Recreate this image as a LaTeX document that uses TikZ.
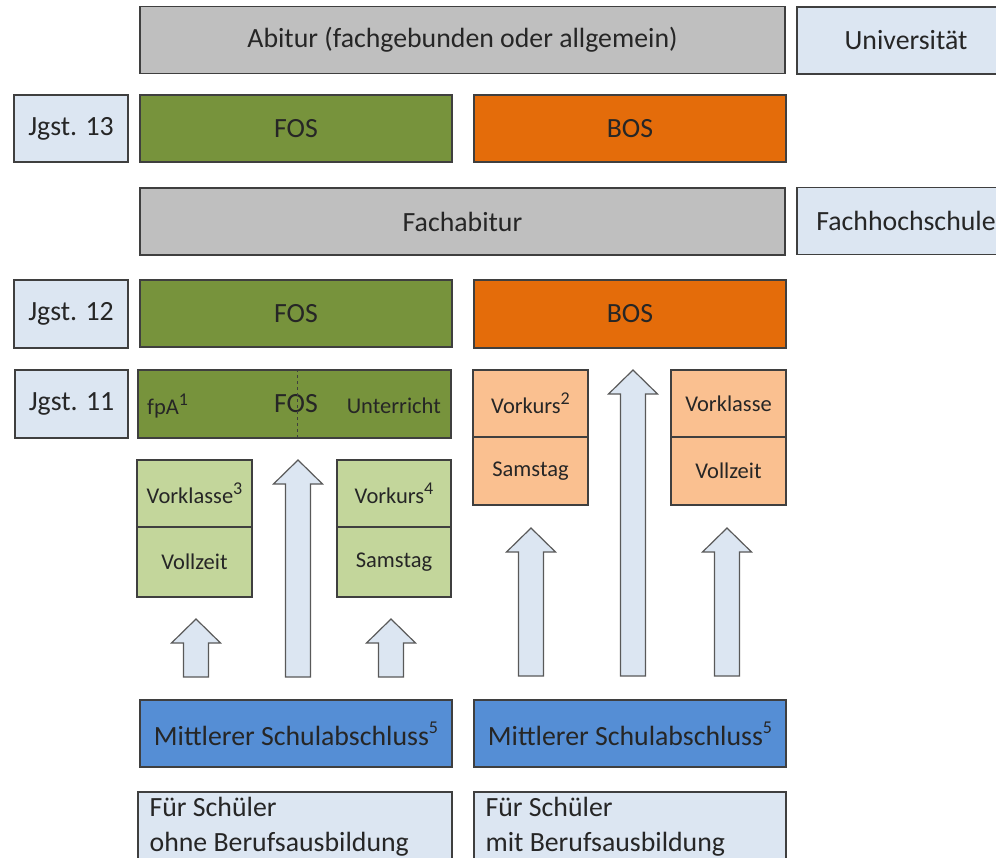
\documentclass[tikz,border=0pt]{standalone}
\usepackage{fontspec}
\setmainfont{Carlito}
\definecolor{bordc}{HTML}{3F3F3F}
\definecolor{txt}{HTML}{262626}
\definecolor{grayf}{HTML}{BFBFBF}
\definecolor{lblue}{HTML}{DCE6F2}
\definecolor{green}{HTML}{77933C}
\definecolor{orange}{HTML}{E46C0A}
\definecolor{lgreen}{HTML}{C3D69B}
\definecolor{lorange}{HTML}{FAC090}
\definecolor{mblue}{HTML}{558ED5}
\definecolor{arrb}{HTML}{595959}
\newcommand{\uparr}[3]{% centre x, tip y, bottom y
  \draw[blockarr] ({#1-12.5},#3) -- ({#1-12.5},{#2+24}) -- ({#1-24.5},{#2+24}) -- (#1,#2)
    -- ({#1+24.5},{#2+24}) -- ({#1+12.5},{#2+24}) -- ({#1+12.5},#3) -- cycle;}
\newcommand{\sps}[1]{\raisebox{0.42em}{\fontsize{18}{18}\selectfont #1}}
\begin{document}
\begin{tikzpicture}[x=1pt,y=-1pt,
  box/.style={draw=bordc, line width=1.2pt, rectangle, inner sep=0pt, text=txt,
    font=\fontsize{27.8}{33}\selectfont},
  wide/.style={box, minimum width=645pt, minimum height=67pt},
  half/.style={box, minimum width=312pt, minimum height=67pt},
  lab/.style={box, fill=lblue, minimum width=114pt, minimum height=67pt},
  dest/.style={box, fill=lblue, minimum width=218pt, minimum height=67pt},
  small/.style={box, minimum width=115pt, font=\fontsize{22.5}{27}\selectfont},
  blockarr/.style={draw=arrb, line width=1.2pt, fill=lblue, line join=miter},
  inl/.style={inner sep=0pt, text=txt, font=\fontsize{22.5}{27}\selectfont}]
\useasboundingbox (0,0) rectangle (996,857);
\clip (0,0) rectangle (996,857);

% top rows
\node[wide, fill=grayf] (abitur) at (462.5,40) {Abitur (fachgebunden oder allgemein)};
\node[dest] (uni) at (906,40.5) {Universität};
\node[lab] (j13) at (71,128.5) {Jgst. 13};
\node[half, fill=green] (fos13) at (296,128.5) {FOS};
\node[half, fill=orange] (bos13) at (630,128.5) {BOS};
\node[wide, fill=grayf] (fachabi) at (462.5,221.5) {Fachabitur};
\node[dest] (fh) at (906,221) {Fachhochschule};
\node[lab, minimum height=68pt] (j12) at (71,314) {Jgst. 12};
\node[half, fill=green] (fos12) at (296,313.5) {FOS};
\node[half, fill=orange, minimum height=68pt] (bos12) at (630,314) {BOS};

% Jgst 11
\node[lab, minimum width=113pt, minimum height=68pt] (j11) at (71.5,404) {Jgst. 11};
\node[half, fill=green, minimum width=313pt, minimum height=68pt] (fos11) at (294.5,404) {};
\node[box, draw=none] (fos11t) at (296,404) {FOS};
\node[inl, anchor=west] (fpa) at (147,406) {fpA\sps{1}};
\node[inl, anchor=east] (unt) at (441,406) {Unterricht};
\draw[bordc, dashed, line width=0.8pt] (fos11.north) ++(2.5,0) coordinate (dtop) -- (dtop |- fos11.south);

% green small boxes
\node[small, fill=lgreen, minimum height=67pt] (vkl3) at (194.5,493.5) {Vorklasse\sps{3}};
\node[small, fill=lgreen, minimum height=70pt] (vz1) at (194.5,562) {Vollzeit};
\node[small, fill=lgreen, minimum width=114pt, minimum height=67pt] (vku4) at (394,493.5) {Vorkurs\sps{4}};
\node[small, fill=lgreen, minimum width=114pt, minimum height=70pt] (sa1) at (394,562) {Samstag};

% orange small boxes
\node[small, fill=lorange, minimum height=67pt] (vku2) at (530.5,403.5) {Vorkurs\sps{2}};
\node[small, fill=lorange, minimum height=68pt] (sa2) at (530.5,471) {Samstag};
\node[small, fill=lorange, minimum height=67pt] (vkl) at (728.5,403.5) {Vorklasse};
\node[small, fill=lorange, minimum height=68pt] (vz2) at (728.5,471) {Vollzeit};

% block arrows
\uparr{196}{619}{677}
\uparr{298}{460}{677}
\uparr{391}{619}{677}
\uparr{531}{528}{676}
\uparr{633}{370}{676}
\uparr{727}{528}{676}

% bottom
\node[half, fill=mblue] (msa1) at (296,733.5) {Mittlerer Schulabschluss\sps{5}};
\node[half, fill=mblue] (msa2) at (630,733.5) {Mittlerer Schulabschluss\sps{5}};
\node[box, fill=lblue, minimum width=314pt, minimum height=90pt] (fs1) at (295,837) {};
\node[box, fill=lblue, minimum width=312pt, minimum height=90pt] (fs2) at (630,837) {};
\node[box, draw=none, anchor=north west, align=left, font=\fontsize{27.8}{35}\selectfont] (fs1t) at (149,797) {Für Schüler\\ohne Berufsausbildung};
\node[box, draw=none, anchor=north west, align=left, font=\fontsize{27.8}{35}\selectfont] (fs2t) at (485,797) {Für Schüler\\mit Berufsausbildung};
\end{tikzpicture}
\end{document}
